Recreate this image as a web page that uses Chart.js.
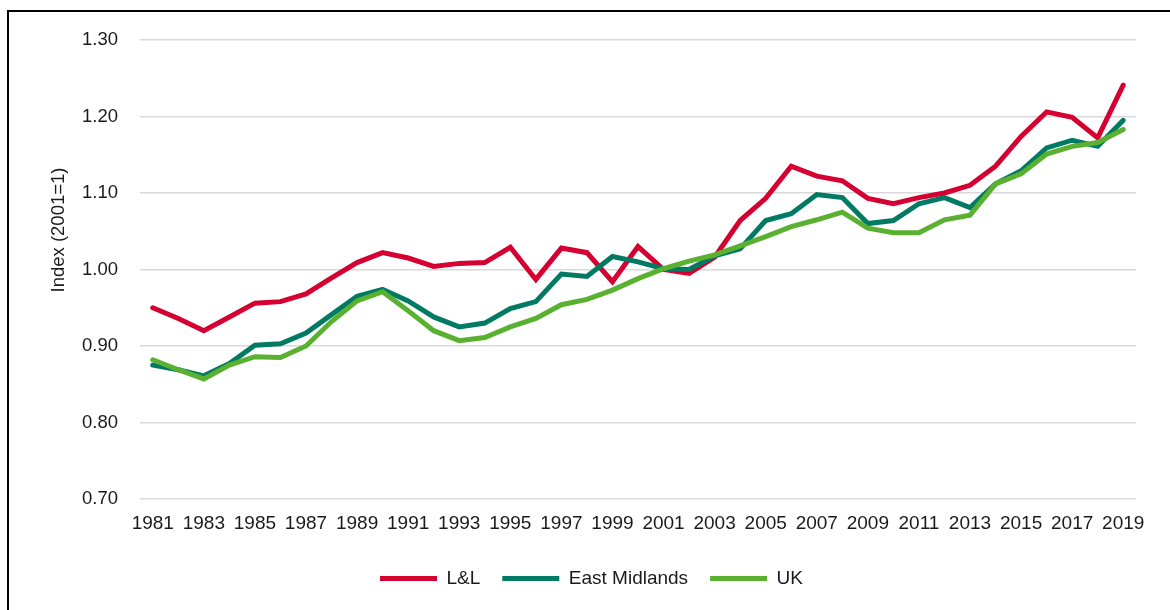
<!DOCTYPE html>
<html>
<head>
<meta charset="utf-8">
<script src="https://cdn.jsdelivr.net/npm/chart.js@4/dist/chart.umd.min.js"></script>
<style>
  html, body { margin: 0; padding: 0; background: #fff; overflow: hidden; }
  #wrap { position: relative; width: 1170px; height: 610px; }
  #frame { position: absolute; left: 7px; top: 10px; width: 1300px; height: 700px;
           border-left: 2px solid #000; border-top: 2px solid #000; }
  #ytitle { position: absolute; left: 58px; top: 230px; transform: translate(-50%, -50%) rotate(-90deg);
            font-family: "Liberation Sans", Arial, sans-serif; font-size: 18.5px; color: #1a1a1a; white-space: nowrap; }
</style>
</head>
<body>
<div id="wrap">
  <canvas id="myChart" width="1170" height="610"></canvas>
  <div id="frame"></div>
  <div id="ytitle">Index (2001=1)</div>
</div>
<script>
// index values, 2001 = 1
const years = ['1981','1982','1983','1984','1985','1986','1987','1988','1989','1990',
  '1991','1992','1993','1994','1995','1996','1997','1998','1999','2000',
  '2001','2002','2003','2004','2005','2006','2007','2008','2009','2010',
  '2011','2012','2013','2014','2015','2016','2017','2018','2019'];

const lnl = [0.950, 0.936, 0.920, 0.938, 0.956, 0.958, 0.968, 0.989, 1.009, 1.022,
  1.015, 1.004, 1.008, 1.009, 1.029, 0.987, 1.028, 1.022, 0.984, 1.030,
  1.000, 0.995, 1.016, 1.064, 1.093, 1.135, 1.122, 1.116, 1.093, 1.086,
  1.094, 1.100, 1.110, 1.135, 1.174, 1.206, 1.199, 1.172, 1.241];

const eastMidlands = [0.875, 0.869, 0.861, 0.877, 0.901, 0.903, 0.917, 0.941, 0.965, 0.974,
  0.959, 0.938, 0.925, 0.930, 0.949, 0.958, 0.994, 0.991, 1.017, 1.010,
  1.001, 1.000, 1.018, 1.027, 1.064, 1.073, 1.098, 1.094, 1.060, 1.064,
  1.086, 1.094, 1.081, 1.112, 1.129, 1.159, 1.169, 1.161, 1.195];

const uk = [0.882, 0.869, 0.857, 0.875, 0.886, 0.885, 0.900, 0.932, 0.959, 0.971,
  0.946, 0.920, 0.907, 0.911, 0.925, 0.936, 0.954, 0.961, 0.973, 0.988,
  1.001, 1.011, 1.019, 1.031, 1.043, 1.056, 1.065, 1.075, 1.054, 1.048,
  1.048, 1.065, 1.071, 1.112, 1.125, 1.151, 1.161, 1.166, 1.183];

const font = { family: '"Liberation Sans", Arial, sans-serif', size: 19 };

const mkLine = (label, data, colour, order) => ({
  label: label,
  data: data,
  borderColor: colour,
  backgroundColor: colour,
  borderWidth: 5,
  borderCapStyle: 'round',
  pointRadius: 0,
  tension: 0,
  order: order
});

const ctx = document.getElementById('myChart').getContext('2d');
let myChart = new Chart(ctx, {
  type: 'line',
  data: {
    labels: years,
    datasets: [
      mkLine('L&L', lnl, '#D50032', 3),
      mkLine('East Midlands', eastMidlands, '#007A62', 2),
      mkLine('UK', uk, '#5AB031', 1)
    ]
  },
  options: {
    responsive: false,
    animation: false,
    layout: { padding: { top: 40, right: 34, bottom: 12, left: 47 } },
    plugins: {
      tooltip: { enabled: false },
      legend: {
        position: 'bottom',
        labels: {
          usePointStyle: true,
          pointStyle: 'line',
          pointStyleWidth: 57,
          padding: 22,
          color: '#1a1a1a',
          font: font,
          sort: (a, b) => a.datasetIndex - b.datasetIndex
        }
      }
    },
    scales: {
      x: {
        offset: true,
        grid: { display: false },
        border: { display: false },
        ticks: {
          autoSkip: false,
          maxRotation: 0,
          padding: 5,
          color: '#1a1a1a',
          font: font,
          callback: (v, i) => i % 2 === 0 ? years[i] : ''
        },
        afterFit: s => { s.height = 48; }
      },
      y: {
        min: 0.7,
        max: 1.3,
        border: { display: false },
        grid: { color: '#d9d9d9', lineWidth: 1.5, drawTicks: false },
        ticks: {
          stepSize: 0.1,
          padding: 22,
          color: '#1a1a1a',
          font: { family: font.family, size: 18.5 },
          callback: v => v.toFixed(2)
        },
        afterFit: s => { s.width = 93; }
      }
    }
  }
});
</script>
</body>
</html>
